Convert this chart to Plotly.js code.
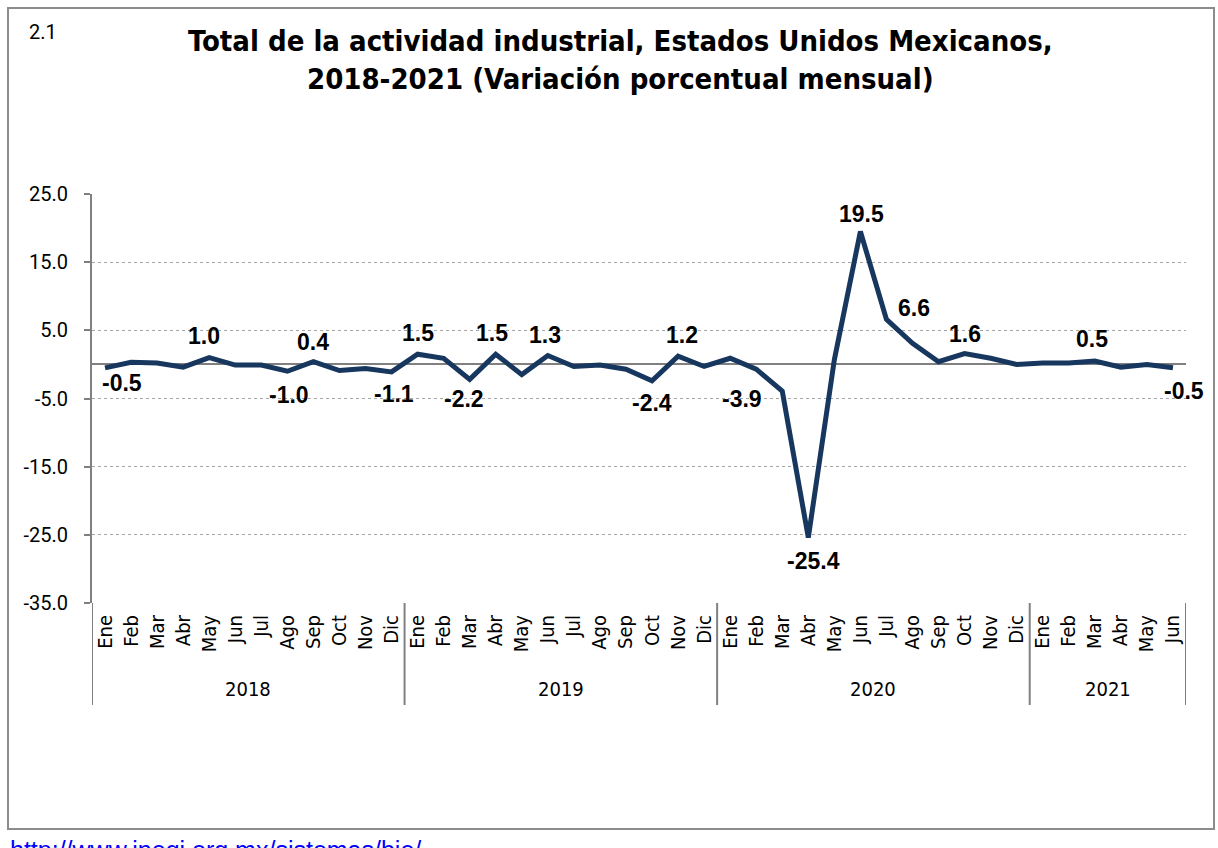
<!DOCTYPE html>
<html>
<head>
<meta charset="utf-8">
<script src="https://cdn.plot.ly/plotly-3.0.1.min.js"></script>
<style>
html,body{margin:0;padding:0;background:#fff;}
#chart{width:1218px;height:848px;}
</style>
</head>
<body>
<div id="chart"></div>
<script>
// ---- data ----
var years = ['2018', '2019', '2020', '2021'];
var monthNames = ['Ene','Feb','Mar','Abr','May','Jun','Jul','Ago','Sep','Oct','Nov','Dic'];
var monthsPerYear = [12, 12, 12, 6];
var values = [
  -0.5, 0.3, 0.2, -0.4, 1.0, -0.1, -0.1, -1.0, 0.4, -0.9, -0.6, -1.1,
  1.5, 0.9, -2.2, 1.5, -1.5, 1.3, -0.3, -0.1, -0.7, -2.4, 1.2, -0.3,
  0.9, -0.7, -3.9, -25.4, 0.7, 19.5, 6.6, 3.1, 0.4, 1.6, 0.9, 0.0,
  0.2, 0.2, 0.5, -0.4, 0.0, -0.5
];
var labeledIdx = [0, 4, 7, 8, 11, 12, 14, 15, 17, 21, 22, 26, 27, 29, 30, 33, 38, 41];
var yTickVals = [25, 15, 5, -5, -15, -25, -35];
var titleText = 'Total de la actividad industrial, Estados Unidos Mexicanos,<br>2018-2021 (Variación porcentual mensual)';
var chartNumber = '2.1';
var sourceLink = 'http://www.inegi.org.mx/sistemas/bie/';

// ---- label placement (style) ----
var labelShift = {
  0: [17, -15], 4: [-5, 22], 7: [2, -24], 8: [0, 20], 11: [2, -22],
  12: [0, 21], 14: [-6, -20], 15: [-4, 21], 17: [-3, 21], 21: [0, -22],
  22: [4, 21], 26: [-40, -8], 27: [5, -23], 29: [1, 17], 30: [28, 11],
  33: [0, 20], 38: [-3, 22], 41: [11, -23]
};

// month categories built from the arrays above
var xIdx = [], xMonth = [];
var yearStart = [];
var k = 0;
years.forEach(function (yr, i) {
  yearStart.push(k);
  for (var m = 0; m < monthsPerYear[i]; m++) { xIdx.push(k); xMonth.push(monthNames[m]); k++; }
});

var trace = {
  type: 'scatter', mode: 'lines',
  x: xIdx, y: values,
  line: { color: '#17375E', width: 5 },
  hoverinfo: 'skip', showlegend: false
};

// plot area in px: left 92, right 1186, top 194, bottom 603
var L = 92, R = 1186, T = 194, B = 603, W = 1218, H = 848;
function px2paperX(p) { return (p - L) / (R - L); }
function px2paperY(p) { return (B - p) / (B - T); }

var annotations = labeledIdx.map(function (i) {
  var s = labelShift[i] || [0, values[i] >= 0 ? 20 : -20];
  return {
    x: i, y: values[i], xref: 'x', yref: 'y',
    text: values[i].toFixed(1), showarrow: false,
    xanchor: 'center', yanchor: 'middle',
    xshift: s[0], yshift: s[1],
    font: { family: 'Liberation Sans, Arial, sans-serif', size: 23, color: '#000', weight: 'bold' }
  };
});
// year labels and dividers
var shapes = [];
years.forEach(function (yr, i) {
  var a = yearStart[i] - 0.5, b = yearStart[i] + monthsPerYear[i] - 0.5;
  annotations.push({
    x: (a + b) / 2, xref: 'x', yref: 'paper', y: px2paperY(689),
    xanchor: 'center', yanchor: 'middle', showarrow: false, text: yr,
    font: { family: 'DejaVu Sans Condensed, sans-serif', size: 20, color: '#000' }
  });
  shapes.push({ type: 'line', xref: 'x', yref: 'paper', x0: a, x1: a, y0: 0, y1: px2paperY(705),
    line: { color: '#808080', width: 2 } });
  if (i === years.length - 1) {
    shapes.push({ type: 'line', xref: 'x', yref: 'paper', x0: b, x1: b, y0: 0, y1: px2paperY(705),
      line: { color: '#808080', width: 2 } });
  }
});
annotations.push({
  xref: 'paper', yref: 'paper', x: px2paperX(620), y: px2paperY(22),
  xanchor: 'center', yanchor: 'top', showarrow: false, align: 'center',
  text: '<b>' + titleText + '</b>',
  font: { family: 'DejaVu Sans Condensed, sans-serif', size: 29, color: '#000' }
});
annotations.push({
  xref: 'paper', yref: 'paper', x: px2paperX(27), y: px2paperY(18),
  xanchor: 'left', yanchor: 'top', showarrow: false, text: chartNumber,
  font: { family: 'Roboto, sans-serif', size: 20, color: '#000' }
});
annotations.push({
  xref: 'paper', yref: 'paper', x: px2paperX(8), y: px2paperY(834),
  xanchor: 'left', yanchor: 'top', showarrow: false,
  text: '<u>' + sourceLink + '</u>',
  font: { family: 'Liberation Sans, Arial, sans-serif', size: 25, color: '#0000FF' }
});
shapes.push({
  type: 'rect', xref: 'paper', yref: 'paper',
  x0: px2paperX(8), x1: px2paperX(1214), y0: px2paperY(829), y1: px2paperY(8),
  line: { color: '#8C8C8C', width: 2 }, fillcolor: 'rgba(0,0,0,0)', layer: 'below'
});

var layout = {
  width: W, height: H,
  margin: { l: L, r: W - R, t: T, b: H - B, pad: 0 },
  paper_bgcolor: '#fff', plot_bgcolor: '#fff',
  xaxis: {
    type: 'linear', tickmode: 'array', tickvals: xIdx, ticktext: xMonth,
    showgrid: false, showline: false, zeroline: false,
    ticks: '', tickangle: -90, ticklabelstandoff: 7,
    tickfont: { family: 'DejaVu Sans Condensed, sans-serif', size: 20, color: '#000' },
    range: [-0.5, values.length - 0.5], fixedrange: true
  },
  yaxis: {
    range: [-35, 25], tickvals: yTickVals,
    ticktext: yTickVals.map(function (v) { return v.toFixed(1); }),
    showgrid: true, gridcolor: '#A6A6A6', griddash: 'dot', gridwidth: 1,
    zeroline: true, zerolinecolor: '#808080', zerolinewidth: 2,
    showline: true, linecolor: '#808080', linewidth: 2,
    ticks: 'outside', ticklen: 6, tickcolor: '#808080', tickwidth: 2,
    ticklabelstandoff: 12,
    tickfont: { family: 'Roboto, sans-serif', size: 20, color: '#000' },
    fixedrange: true
  },
  shapes: shapes,
  annotations: annotations
};

Plotly.newPlot('chart', [trace], layout, { displayModeBar: false, staticPlot: true });
</script>
</body>
</html>
